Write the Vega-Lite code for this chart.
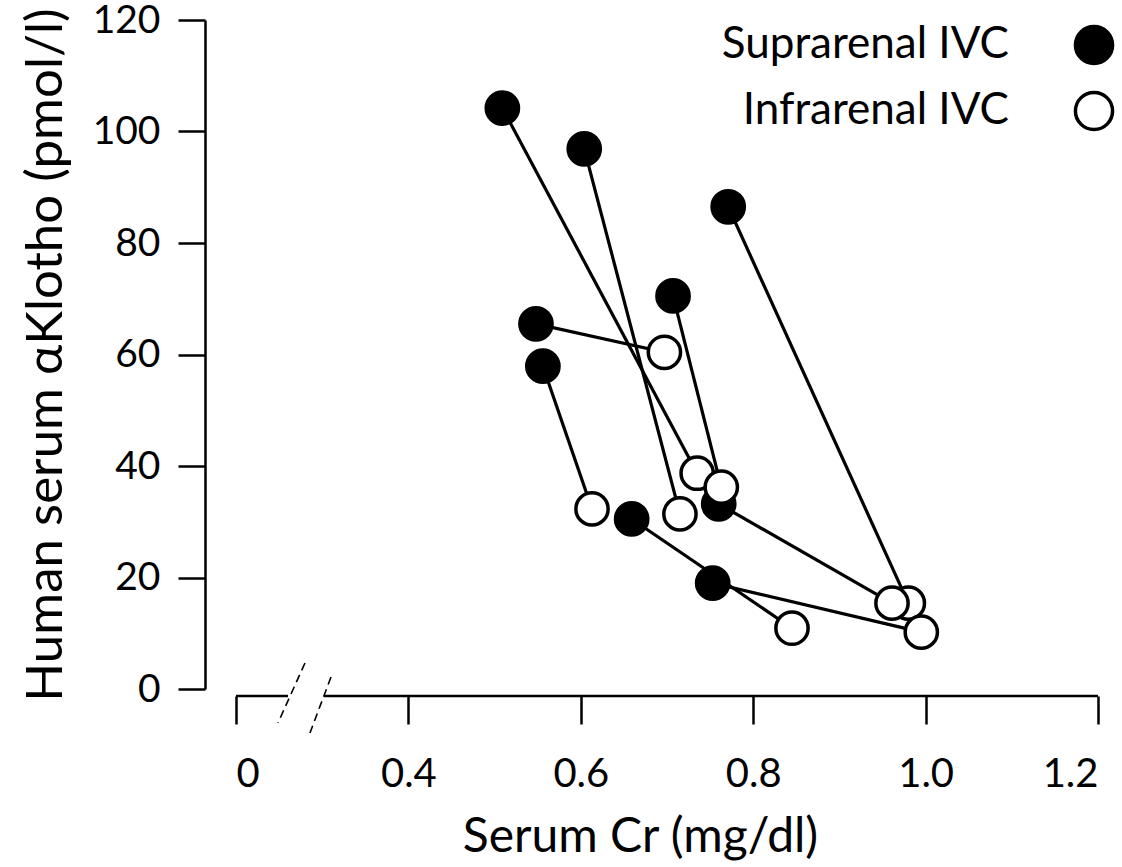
{
  "$schema": "https://vega.github.io/schema/vega-lite/v6.json",
  "width": 862,
  "height": 669,
  "autosize": {"type": "none"},
  "padding": {"left": 236, "top": 20, "right": 24, "bottom": 178},
  "background": "white",
  "config": {
    "view": {"stroke": null},
    "font": "Lato",
    "axis": {
      "labelFont": "Lato",
      "labelFontSize": 40,
      "labelColor": "black",
      "titleFont": "Lato",
      "titleFontWeight": "normal",
      "titleColor": "black",
      "tickColor": "black",
      "tickWidth": 2.5,
      "domainColor": "black",
      "domainWidth": 2.5,
      "grid": false
    }
  },
  "datasets": {
    "klotho": [
      {"pair": 1, "site": "Suprarenal IVC", "cr": 0.509, "klotho": 104.2},
      {"pair": 2, "site": "Suprarenal IVC", "cr": 0.604, "klotho": 96.9},
      {"pair": 3, "site": "Suprarenal IVC", "cr": 0.771, "klotho": 86.5},
      {"pair": 4, "site": "Suprarenal IVC", "cr": 0.707, "klotho": 70.5},
      {"pair": 5, "site": "Suprarenal IVC", "cr": 0.548, "klotho": 65.5},
      {"pair": 6, "site": "Suprarenal IVC", "cr": 0.556, "klotho": 57.9},
      {"pair": 7, "site": "Suprarenal IVC", "cr": 0.659, "klotho": 30.5},
      {"pair": 8, "site": "Suprarenal IVC", "cr": 0.760, "klotho": 33.2},
      {"pair": 9, "site": "Suprarenal IVC", "cr": 0.753, "klotho": 19.0},
      {"pair": 3, "site": "Infrarenal IVC", "cr": 0.980, "klotho": 15.4},
      {"pair": 1, "site": "Infrarenal IVC", "cr": 0.735, "klotho": 38.7},
      {"pair": 2, "site": "Infrarenal IVC", "cr": 0.715, "klotho": 31.4},
      {"pair": 4, "site": "Infrarenal IVC", "cr": 0.763, "klotho": 36.2},
      {"pair": 5, "site": "Infrarenal IVC", "cr": 0.697, "klotho": 60.4},
      {"pair": 6, "site": "Infrarenal IVC", "cr": 0.613, "klotho": 32.3},
      {"pair": 7, "site": "Infrarenal IVC", "cr": 0.845, "klotho": 10.9},
      {"pair": 8, "site": "Infrarenal IVC", "cr": 0.961, "klotho": 15.4},
      {"pair": 9, "site": "Infrarenal IVC", "cr": 0.995, "klotho": 10.2}
    ],
    "axisline": [
      {"x": 0.2, "x2": 0.2603, "y": -1.256},
      {"x": 0.302, "x2": 1.2, "y": -1.256}
    ],
    "axisbreak": [
      {"x": 0.2800, "x2": 0.2487, "y": 4.66, "y2": -6.10},
      {"x": 0.3102, "x2": 0.2858, "y": 2.15, "y2": -7.89}
    ]
  },
  "layer": [
    {
      "data": {"name": "axisline"},
      "mark": {"type": "rule", "color": "black", "strokeWidth": 2.5},
      "encoding": {
        "x": {"field": "x", "type": "quantitative", "scale": {"domain": [0.2, 1.2], "nice": false, "zero": false}},
        "x2": {"field": "x2"},
        "y": {"field": "y", "type": "quantitative", "scale": {"domain": [0, 120], "nice": false}}
      }
    },
    {
      "data": {"name": "axisbreak"},
      "mark": {"type": "rule", "color": "black", "strokeWidth": 1.6, "strokeDash": [8, 5]},
      "encoding": {
        "x": {"field": "x", "type": "quantitative"},
        "x2": {"field": "x2"},
        "y": {"field": "y", "type": "quantitative"},
        "y2": {"field": "y2"}
      }
    },
    {
      "data": {"name": "klotho"},
      "mark": {"type": "line", "color": "black", "strokeWidth": 3.2},
      "encoding": {
        "x": {"field": "cr", "type": "quantitative"},
        "y": {"field": "klotho", "type": "quantitative"},
        "detail": {"field": "pair"}
      }
    },
    {
      "data": {"name": "klotho"},
      "mark": {"type": "point", "shape": "circle", "filled": true, "stroke": "black", "strokeWidth": 3.5, "opacity": 1, "size": 1040},
      "encoding": {
        "x": {
          "field": "cr", "type": "quantitative",
          "axis": {
            "title": "Serum Cr (mg/dl)",
            "values": [0.2, 0.4, 0.6, 0.8, 1.0, 1.2],
            "labelExpr": "datum.value < 0.3 ? '0' : format(datum.value, '.1f')",
            "domain": false,
            "offset": 7,
            "tickSize": 28,
            "labelPadding": 30,
            "titleFontSize": 48,
            "titlePadding": 19,
            "titleX": 404,
            "titleAnchor": "middle"
          }
        },
        "y": {
          "field": "klotho", "type": "quantitative",
          "axis": {
            "title": "Human serum αKlotho (pmol/l)",
            "values": [0, 20, 40, 60, 80, 100, 120],
            "offset": 31,
            "tickSize": 27,
            "labelPadding": 18,
            "labelFontSize": 39,
            "titleFontSize": 51,
            "titlePadding": 20
          }
        },
        "fill": {
          "field": "site", "type": "nominal",
          "scale": {"domain": ["Suprarenal IVC", "Infrarenal IVC"], "range": ["#000000", "#ffffff"]},
          "legend": {
            "title": null,
            "orient": "none",
            "legendX": 836,
            "legendY": 3,
            "padding": 0,
            "labelFont": "Lato",
            "labelFontSize": 44,
            "labelColor": "black",
            "labelAlign": "right",
            "labelOffset": -107,
            "labelLimit": 0,
            "symbolType": "circle",
            "symbolSize": 1380,
            "symbolStrokeWidth": 3.5,
            "symbolStrokeColor": "black",
            "symbolOpacity": 1,
            "rowPadding": 14
          }
        }
      }
    }
  ]
}
